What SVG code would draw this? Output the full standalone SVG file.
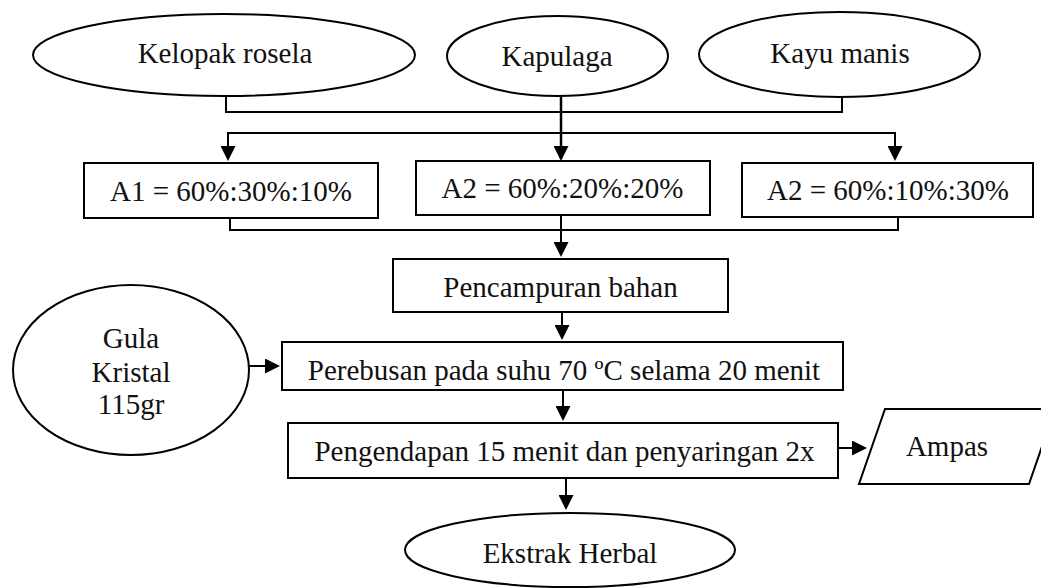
<svg xmlns="http://www.w3.org/2000/svg" width="1041" height="588" viewBox="0 0 1041 588">
<defs>
<marker id="ah" markerUnits="userSpaceOnUse" markerWidth="15" markerHeight="15" viewBox="0 0 15 15" refX="13" refY="7.5" orient="auto">
<path d="M0,0 L15,7.5 L0,15 z" fill="#000"/>
</marker>
</defs>
<style>
.n{fill:#fff;stroke:#000;stroke-width:2}
.t{font-family:"Liberation Serif","Times New Roman",serif;font-size:29px;fill:#111;text-anchor:middle}
.c{fill:none;stroke:#000;stroke-width:2}
.a{marker-end:url(#ah)}
</style>
<rect width="1041" height="588" fill="#fff"/>
<g id="connectors">
<path class="c" d="M226,96 V112 H842 V97"/>
<path class="c a" d="M561,96 V159" style="stroke-width:2.5"/>
<path class="c a" d="M561,133 H228 V159"/>
<path class="c a" d="M561,133 H895 V159"/>
<path class="c" d="M230,218 V230 H898 V217"/>
<path class="c a" d="M561,215 V255"/>
<path class="c a" d="M562,312 V338"/>
<path class="c a" d="M249,366 H278"/>
<path class="c a" d="M563,390 V419"/>
<path class="c a" d="M566,478 V508"/>
<path class="c a" d="M838,448 H865"/>
</g>
<g id="kelopak">
<ellipse class="n" cx="224" cy="55" rx="191" ry="41"/>
<text class="t" x="225" y="63">Kelopak rosela</text>
</g>
<g id="kapulaga">
<ellipse class="n" cx="557.5" cy="56" rx="110.5" ry="40"/>
<text class="t" x="557" y="66">Kapulaga</text>
</g>
<g id="kayumanis">
<ellipse class="n" cx="839.5" cy="54.5" rx="140.5" ry="42.5"/>
<text class="t" x="840" y="63">Kayu manis</text>
</g>
<g id="a1">
<rect class="n" x="84" y="163" width="294" height="55"/>
<text class="t" x="231" y="201">A1 = 60%:30%:10%</text>
</g>
<g id="a2">
<rect class="n" x="416" y="161" width="294" height="54"/>
<text class="t" x="562.5" y="198">A2 = 60%:20%:20%</text>
</g>
<g id="a3">
<rect class="n" x="742" y="163" width="291" height="54"/>
<text class="t" x="888" y="200">A2 = 60%:10%:30%</text>
</g>
<g id="pencampuran">
<rect class="n" x="393" y="259" width="335" height="53"/>
<text class="t" x="560.5" y="297">Pencampuran bahan</text>
</g>
<g id="gula">
<ellipse class="n" cx="131" cy="370" rx="118" ry="85"/>
<text class="t" x="131" y="348">Gula</text>
<text class="t" x="131" y="382">Kristal</text>
<text class="t" x="131" y="414">115gr</text>
</g>
<g id="perebusan">
<rect class="n" x="282" y="342" width="561" height="48"/>
<text class="t" x="564" y="380">Perebusan pada suhu 70 ºC selama 20 menit</text>
</g>
<g id="pengendapan">
<rect class="n" x="288" y="423" width="550" height="55"/>
<text class="t" x="564.5" y="461">Pengendapan 15 menit dan penyaringan 2x</text>
</g>
<g id="ampas">
<polygon class="n" points="885,409 1055,409 1029,484 859,484"/>
<text class="t" x="947" y="456">Ampas</text>
</g>
<g id="ekstrak">
<ellipse class="n" cx="570" cy="550" rx="165" ry="37"/>
<text class="t" x="570" y="563">Ekstrak Herbal</text>
</g>
</svg>
